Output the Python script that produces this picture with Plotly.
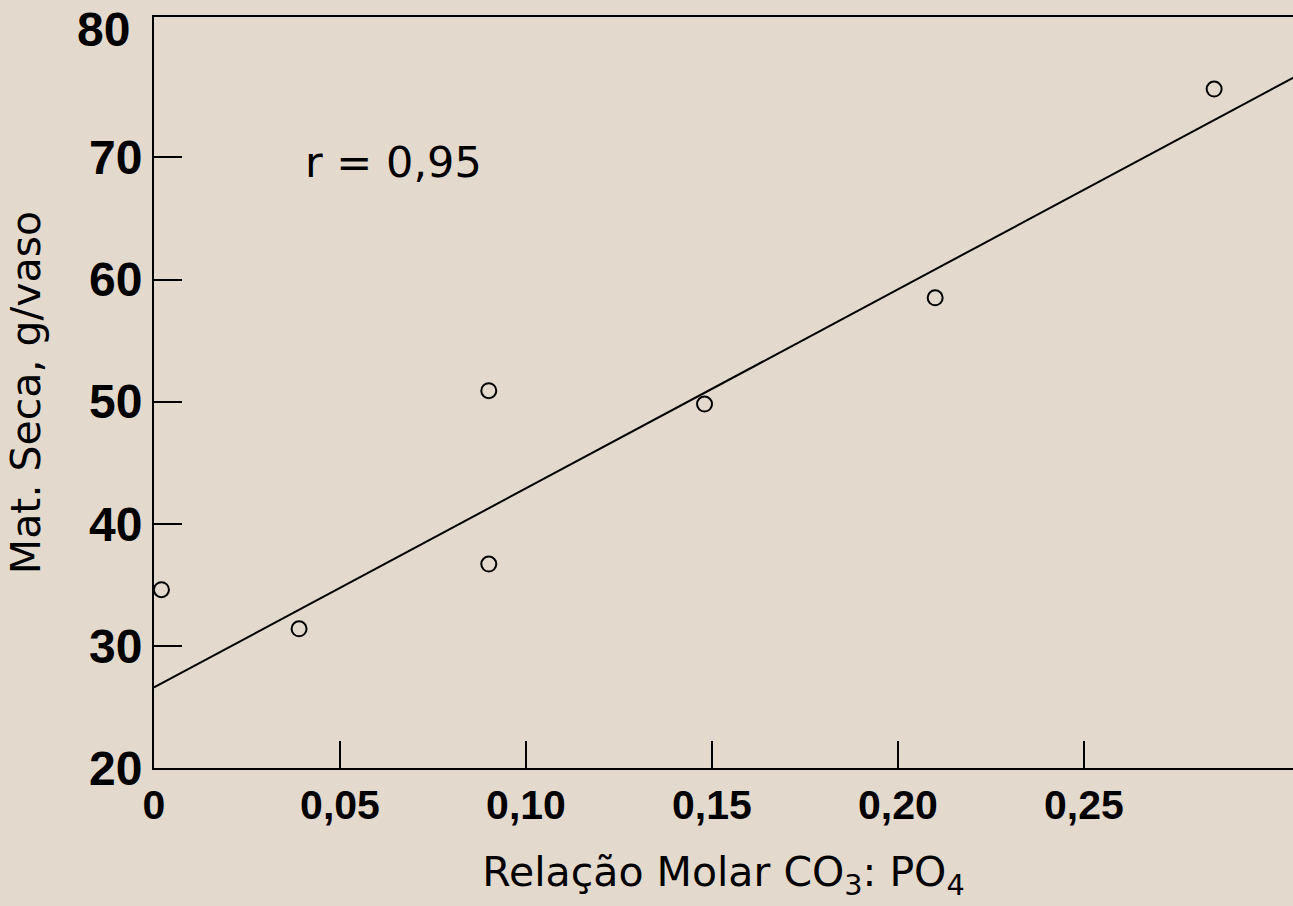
import plotly.graph_objects as go

# Data
ratio_co3_po4 = [0.002, 0.039, 0.090, 0.090, 0.148, 0.210, 0.285]
dry_matter = [34.6, 31.4, 50.9, 36.7, 49.8, 58.5, 75.6]

# Regression line as drawn (y = a + b*x)
fit_intercept = 26.6
fit_slope = 163.0
fit_x = [0.0, 0.32]
fit_y = [fit_intercept + fit_slope * v for v in fit_x]

x_tickvals = [0, 0.05, 0.10, 0.15, 0.20, 0.25]
x_ticktext = ["0", "0,05", "0,10", "0,15", "0,20", "0,25"]
y_tickvals = [20, 30, 40, 50, 60, 70]
y_ticktext = ["20", "30", "40", "50", "60", "70"]
y_top_label = "80"
r_label = "r = 0,95"

bg = "#e3dacd"
tick_font = dict(family="Liberation Sans, Arial, sans-serif", size=48, color="black", weight="bold")
title_font = dict(family="DejaVu Sans, sans-serif", size=41, color="black")

fig = go.Figure()
fig.add_trace(go.Scatter(
    x=fit_x, y=fit_y, mode="lines",
    line=dict(color="black", width=2), showlegend=False, hoverinfo="skip",
))
fig.add_trace(go.Scatter(
    x=ratio_co3_po4, y=dry_matter, mode="markers",
    marker=dict(symbol="circle-open", size=15, color="black", line=dict(width=2, color="black")),
    showlegend=False,
))

fig.update_layout(
    width=1293, height=906,
    margin=dict(l=154, r=0, t=17, b=138),
    paper_bgcolor=bg, plot_bgcolor=bg,
    xaxis=dict(
        range=[0, 0.3062], showgrid=False, zeroline=False,
        showline=True, linecolor="black", linewidth=2, mirror=True,
        ticks="inside", ticklen=27, tickwidth=1.5, tickcolor="black",
        tickvals=x_tickvals, ticktext=x_ticktext, tickfont=dict(tick_font, size=41),
        ticklabelstandoff=0,
        title=dict(text="Relação Molar CO<sub>3</sub>: PO<sub>4</sub>", font=title_font, standoff=30),
    ),
    yaxis=dict(
        range=[20, 81.5], showgrid=False, zeroline=False,
        showline=True, linecolor="black", linewidth=2, mirror=False,
        ticks="inside", ticklen=28, tickwidth=1.5, tickcolor="black",
        tickvals=y_tickvals, ticktext=y_ticktext, tickfont=tick_font,
        ticklabelstandoff=0,
        title=dict(text="Mat. Seca, g/vaso", font=title_font, standoff=36),
    ),
    annotations=[
        dict(text=y_top_label, xref="paper", x=0, xanchor="right", xshift=-22,
             yref="y", y=80, yanchor="middle", yshift=6, showarrow=False, font=tick_font),
        dict(text=r_label, xref="x", x=0.0645, yref="y", y=69.6,
             xanchor="center", yanchor="middle", showarrow=False,
             font=dict(title_font, size=43)),
    ],
)

fig.write_html("out.html")
